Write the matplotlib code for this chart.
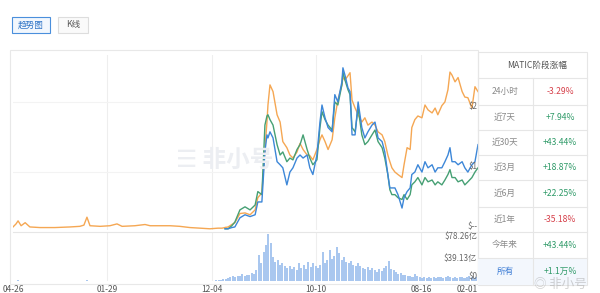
import numpy as np
import matplotlib.pyplot as plt
from matplotlib.patches import Rectangle

plt.rcParams['font.family'] = ['Noto Sans CJK SC', 'DejaVu Sans']

# 数据: 横轴为距 04-26 的天数
tick_days = [0, 278, 588, 898, 1208, 1377]
tick_labels = ['04-26', '01-29', '12-04', '10-10', '08-16', '02-01']

# 早期价格(美元)
early_days = [0, 9, 15, 24, 36, 50, 80, 124, 169, 198, 210, 219, 228, 258, 287, 308, 323,
              361, 391, 406, 435, 465, 494, 524, 554, 583, 607, 619]
early_usd = [0.03, 0.08, 0.13, 0.05, 0.10, 0.03, 0.02, 0.02, 0.03, 0.04, 0.06, 0.19, 0.05,
             0.04, 0.05, 0.08, 0.04, 0.05, 0.07, 0.05, 0.05, 0.05, 0.04, 0.02, 0.01, 0.00,
             0.01, 0.01]

# 之后三条线
days = [628, 637, 648, 657, 672, 687, 702, 717, 725, 737, 746, 752, 755, 761, 770, 782, 791,
        799, 811, 820, 829, 841, 850, 859, 871, 879, 888, 900, 909, 915, 924, 933, 945, 953,
        962, 974, 977, 983, 992, 998, 1004, 1013, 1022, 1033, 1042, 1051, 1063, 1072, 1081,
        1093, 1101, 1110, 1116, 1122, 1131, 1140, 1152, 1158, 1167, 1176, 1181, 1190, 1199,
        1211, 1220, 1229, 1241, 1250, 1258, 1270, 1279, 1288, 1294, 1300, 1309, 1318, 1330,
        1338, 1347, 1359, 1368, 1377]
orange = [0.02, 0.03, 0.07, 0.10, 0.25, 0.26, 0.23, 0.31, 0.51, 0.59, 1.30, 1.75, 2.03, 2.36,
          2.25, 1.87, 1.75, 1.43, 1.33, 1.21, 1.16, 1.26, 1.40, 1.30, 1.21, 1.20, 1.13, 1.30,
          1.46, 1.54, 1.43, 1.30, 1.46, 1.82, 2.11, 2.36, 2.48, 2.44, 2.51, 2.56, 2.11, 1.98,
          1.87, 1.75, 1.82, 1.70, 1.75, 1.70, 1.59, 1.54, 1.43, 1.21, 1.10, 1.00, 0.93, 0.89,
          0.84, 1.05, 1.33, 1.30, 1.66, 1.79, 1.85, 1.82, 2.03, 1.95, 1.90, 1.98, 1.87, 2.02,
          2.08, 2.28, 2.57, 2.52, 2.41, 2.48, 2.25, 2.16, 2.15, 1.98, 2.33, 2.25]
blue = [0.00, 0.00, 0.02, 0.03, 0.18, 0.23, 0.20, 0.23, 0.44, 0.44, 1.26, 1.54, 1.49, 1.59,
        1.49, 1.10, 1.05, 1.00, 0.72, 0.93, 1.00, 1.16, 1.21, 1.16, 1.21, 1.00, 0.89, 1.21,
        1.75, 2.03, 1.82, 1.66, 1.59, 2.20, 2.08, 2.41, 2.64, 2.52, 2.31, 2.25, 1.54, 1.54,
        2.08, 1.66, 1.49, 1.59, 1.70, 1.75, 1.49, 1.43, 1.26, 0.89, 0.67, 0.67, 0.67, 0.56,
        0.34, 0.51, 0.61, 0.67, 0.89, 0.93, 1.05, 0.93, 1.10, 1.00, 1.05, 0.93, 1.00, 1.00,
        1.10, 1.21, 1.33, 1.10, 1.10, 1.05, 1.10, 1.00, 0.93, 1.05, 1.10, 1.38]
green = [0.00, 0.00, 0.05, 0.11, 0.31, 0.36, 0.31, 0.39, 0.61, 0.56, 1.70, 1.85, 1.87, 1.79,
         1.70, 1.38, 1.21, 1.26, 1.10, 1.16, 1.13, 1.30, 1.38, 1.54, 1.30, 1.16, 1.05, 1.13,
         1.66, 1.92, 1.79, 1.70, 1.62, 2.08, 2.03, 2.36, 2.57, 2.44, 2.28, 2.20, 1.66, 1.59,
         1.98, 1.54, 1.38, 1.43, 1.54, 1.62, 1.43, 1.33, 1.16, 0.89, 0.64, 0.56, 0.56, 0.51,
         0.48, 0.56, 0.48, 0.56, 0.72, 0.77, 0.84, 0.72, 0.84, 0.77, 0.80, 0.72, 0.77, 0.72,
         0.80, 0.89, 0.97, 0.84, 0.84, 0.77, 0.80, 0.72, 0.77, 0.84, 0.93, 1.00]

# 成交量(亿美元), 每周一根
vol_early_days = [14, 60, 120, 219, 300, 400, 500, 560]
vol_early = [1.5, 0.5, 0.5, 2.0, 0.8, 0.6, 0.5, 0.5]
vol_start = 602
volume = [1, 2, 2, 3, 4, 5, 6, 8, 7, 9, 8, 12, 9, 10, 11, 14, 12, 18, 44, 30, 50, 62, 80, 65,
          40, 33, 35, 28, 30, 25, 22, 26, 20, 24, 18, 30, 22, 28, 20, 32, 24, 30, 26, 22, 28,
          50, 30, 36, 52, 38, 42, 58, 48, 36, 40, 32, 30, 34, 27, 25, 30, 26, 22, 20, 24, 18,
          22, 19, 16, 20, 17, 22, 26, 34, 20, 18, 15, 12, 14, 11, 10, 8, 9, 7, 12, 8, 6, 5, 6,
          5, 7, 5, 6, 5, 7, 6, 5, 6, 8, 7, 5, 6, 5, 7, 6, 5, 6, 8, 6, 5, 7]
vol_days = vol_start + 7 * np.arange(len(volume))

table_title = 'MATIC阶段涨幅'
periods = ['24小时', '近7天', '近30天', '近3月', '近6月', '近1年', '今年来', '所有']
changes = ['-3.29%', '+7.94%', '+43.44%', '+18.87%', '+22.25%', '-35.18%', '+43.44%', '+1.1万%']

W, H = 600, 293
fig = plt.figure(figsize=(W / 100, H / 100), dpi=100)


def px_axes(x0, y0, x1, y1, **kw):
    return fig.add_axes([x0 / W, 1 - y1 / H, (x1 - x0) / W, (y1 - y0) / H], **kw)


def fx(x):
    return x / W


def fy(y):
    return 1 - y / H


c_orange = '#f5a753'
c_blue = '#3d87d8'
c_green = '#46a074'
grid_c = '#eeeeee'

# 外框
fig.patches.append(Rectangle((fx(10), fy(284)), fx(468), (284 - 50) / H, transform=fig.transFigure,
                             fill=False, ec='#e8e8e8', lw=0.8))

# 价格区
ax = px_axes(13, 55, 478, 230)
ax.set_xlim(0, 1377)
ax.set_ylim(-0.02, 2.85)
for d in tick_days[1:-1]:
    ax.axvline(d, color=grid_c, lw=0.8, zorder=0)
for v in [0.93, 2.08]:
    ax.axhline(v, color='#f3f3f3', lw=0.8, zorder=0)
ax.plot(early_days + days[:1], early_usd + orange[:1], color=c_orange, lw=1.0)
ax.plot(days, orange, color=c_orange, lw=1.0)
ax.plot(days, green, color=c_green, lw=1.0)
ax.plot(days, blue, color=c_blue, lw=1.0)
ax.axis('off')

# 水印
fig.text(fx(225), fy(160), '☰ 非小号', fontsize=17, color='#eceef2', ha='center', va='center',
         fontweight='bold', zorder=0, family=['Noto Sans CJK SC', 'DejaVu Sans'])

# 成交量区
axv = px_axes(13, 232, 478, 281)
axv.set_xlim(0, 1377)
axv.set_ylim(0, 83.3)
for d in tick_days[1:-1]:
    axv.axvline(d, color=grid_c, lw=0.8, zorder=0)
axv.bar(vol_early_days, vol_early, width=5, color='#a9c7ef', lw=0)
axv.bar(vol_days, volume, width=6, color='#a9c7ef', lw=0)
for s in ['left', 'right', 'bottom']:
    axv.spines[s].set_visible(False)
axv.spines['top'].set_color('#e6e6e6')
axv.spines['top'].set_linewidth(0.8)
axv.set_yticks([])
axv.set_xticks(tick_days)
axv.set_xticklabels(tick_labels, fontsize=6, color='#555555')
axv.tick_params(axis='x', length=0, pad=3)
axv.get_xticklabels()[-1].set_ha('right')

# 右侧刻度文字
lab = dict(fontsize=5.8, color='#666666', ha='right', va='center')
fig.text(fx(477), fy(106), '$2', **lab)
fig.text(fx(477), fy(166), '$1', **lab)
fig.text(fx(477), fy(226), '$--', **lab)
fig.text(fx(477), fy(236), '$78.26亿', **lab)
fig.text(fx(477), fy(258), '$39.13亿', **lab)
fig.text(fx(477), fy(277), '$0', **lab)

# 按钮
fig.patches.append(Rectangle((fx(12), fy(33)), 38 / W, 16 / H, transform=fig.transFigure,
                             fc='#f2f7fd', ec='#4a8fdc', lw=0.8))
fig.text(fx(31), fy(25), '趋势图', fontsize=6.2, color='#2d73c6', ha='center', va='center')
fig.patches.append(Rectangle((fx(58), fy(33)), 30 / W, 16 / H, transform=fig.transFigure,
                             fc='#fafafa', ec='#dddddd', lw=0.8))
fig.text(fx(73), fy(25), 'K线', fontsize=6.2, color='#555555', ha='center', va='center')

# 阶段涨幅表
tx0, tx1, tmid = 478, 587, 533
row_edges = [52, 78, 105, 130, 155, 180, 207, 232, 258, 285]
fig.patches.append(Rectangle((fx(tx0), fy(row_edges[-1])), (tx1 - tx0) / W,
                             (row_edges[-1] - row_edges[0]) / H, transform=fig.transFigure,
                             fill=False, ec='#e6e6e6', lw=0.8))
fig.patches.append(Rectangle((fx(tx0), fy(285)), (tx1 - tx0) / W, 27 / H,
                             transform=fig.transFigure, fc='#f3f7fd', ec='none'))
for y in row_edges[1:-1]:
    fig.lines.append(plt.Line2D([fx(tx0), fx(tx1)], [fy(y), fy(y)], transform=fig.transFigure,
                                color='#e6e6e6', lw=0.8))
fig.lines.append(plt.Line2D([fx(tmid), fx(tmid)], [fy(row_edges[1]), fy(row_edges[-1])],
                            transform=fig.transFigure, color='#e6e6e6', lw=0.8))
fig.text(fx(537), fy(65), table_title, fontsize=6.2, color='#555555', ha='center', va='center')
for i, (p, c) in enumerate(zip(periods, changes)):
    yc = (row_edges[i + 1] + row_edges[i + 2]) / 2
    pc = '#3a7bd5' if p == '所有' else '#8a8a8a'
    cc = '#d6404a' if c.startswith('-') else '#2f9a68'
    fig.text(fx(505), fy(yc), p, fontsize=6.2, color=pc, ha='center', va='center')
    fig.text(fx(560), fy(yc), c, fontsize=6.2, color=cc, ha='center', va='center')

# 右下角水印
fig.text(fx(560), fy(284), '◎ 非小号', fontsize=9, color='#9a9a9a', alpha=0.45,
         ha='center', va='center', family=['Noto Sans CJK SC', 'DejaVu Sans'])

fig.savefig('out.png', dpi=100)
